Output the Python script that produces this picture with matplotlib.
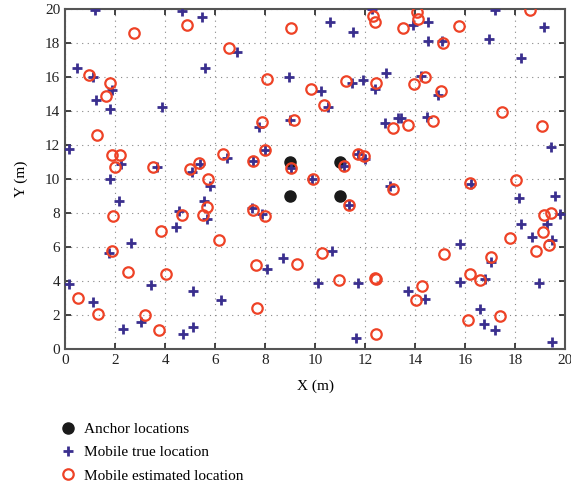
import matplotlib
matplotlib.use("Agg")
import matplotlib.pyplot as plt
import numpy as np

plt.rcParams['font.family'] = ['Liberation Serif', 'DejaVu Serif']

# anchor positions
anchor_x = [9, 11, 9, 11]
anchor_y = [11, 11, 9, 9]

# mobile true locations (+)
true_x = [1.2, 4.67, 5.47, 0.47, 1.13, 5.6, 1.87, 1.23, 1.8, 3.87, 0.17, 2.23, 3.67, 5.07, 5.4, 6.47, 5.8, 1.8,
          12.27, 10.6, 11.5, 6.87, 8.96, 10.23, 10.5, 11.47, 11.9, 12.4, 12.84, 7.77, 9.0, 12.8, 13.33, 7.53,
          8.0, 9.04, 9.87, 11.17, 11.7, 12.0,
          13.93, 14.53, 17.17, 19.16, 14.53, 15.07, 16.96, 18.24, 14.24, 14.9, 13.44, 14.49, 19.44,
          16.24, 18.16, 19.6, 19.8, 18.24, 19.27, 18.67, 19.47, 15.8, 17.04, 16.77, 15.8, 18.96, 13.73,
          14.4, 16.6, 16.73, 17.17, 19.47,
          11.37, 13.0, 7.47, 7.87, 10.67, 8.07, 8.71, 10.11, 11.71, 11.64, 6.25,
          2.17, 5.56, 5.69, 4.56, 4.43, 2.64, 1.76, 0.17, 3.44, 5.1, 1.13, 3.03, 2.31, 4.73, 5.11]
true_y = [19.9, 19.86, 19.5, 16.5, 16.0, 16.5, 15.2, 14.63, 14.08, 14.24, 11.75, 10.87, 10.7, 10.41, 10.85, 11.2, 9.6, 10.0,
          20.0, 19.24, 18.65, 17.43, 16.0, 15.16, 14.25, 15.61, 15.8, 15.26, 16.24, 13.06, 13.45, 13.26, 13.55, 11.04,
          11.69, 10.65, 10.0, 10.75, 11.45, 11.14,
          19.04, 19.24, 19.92, 18.9, 18.12, 18.1, 18.2, 17.08, 16.04, 14.92, 13.59, 13.65, 11.88,
          9.68, 8.85, 9.0, 7.96, 7.37, 7.32, 6.59, 6.39, 6.14, 5.12, 4.14, 3.94, 3.85, 3.41,
          2.96, 2.37, 1.49, 1.1, 0.38,
          8.49, 9.6, 8.3, 7.96, 5.75, 4.67, 5.32, 3.9, 3.9, 0.65, 2.9,
          8.69, 8.69, 7.61, 8.12, 7.14, 6.2, 5.65, 3.8, 3.75, 3.41, 2.73, 1.59, 1.16, 0.85, 1.26]

# mobile estimated locations (o)
est_x = [4.87, 2.76, 6.55, 0.97, 1.8, 1.64, 1.29, 1.87, 2.2, 2.0, 3.53, 5.0, 5.37, 6.31, 5.73,
         12.33, 12.4, 9.04, 13.5, 8.09, 9.83, 10.36, 11.23, 12.43, 7.87, 9.17, 13.13, 7.53, 8.0, 9.04,
         9.9, 11.17, 11.7, 11.97,
         14.09, 14.1, 15.77, 18.6, 15.1, 14.4, 13.97, 15.04, 13.73, 14.73, 17.47, 19.07,
         16.2, 18.03, 19.16, 19.44, 19.1, 17.8, 19.36, 18.84, 15.17, 17.04, 16.2, 16.6, 14.27, 14.04,
         17.4, 16.09,
         11.37, 13.1, 7.53, 8.0, 10.29, 7.64, 9.27, 10.96, 12.4, 12.45, 7.69, 12.44,
         5.69, 5.53, 1.93, 4.67, 3.84, 6.17, 1.89, 2.53, 4.04, 0.53, 1.31, 3.2, 3.76]
est_y = [19.04, 18.6, 17.67, 16.1, 15.65, 14.86, 12.6, 11.4, 11.43, 10.7, 10.7, 10.6, 10.94, 11.45, 9.98,
         19.6, 19.24, 18.85, 18.85, 15.86, 15.26, 14.32, 15.75, 15.61, 13.32, 13.45, 13.0, 11.04, 11.69, 10.65,
         10.02, 10.75, 11.45, 11.35,
         19.83, 19.37, 18.98, 19.92, 17.96, 16.0, 15.55, 15.18, 13.16, 13.39, 13.94, 13.1,
         9.73, 9.92, 7.9, 8.02, 6.85, 6.53, 6.1, 5.76, 5.61, 5.41, 4.38, 4.08, 3.69, 2.86,
         1.92, 1.69,
         8.49, 9.4, 8.16, 7.82, 5.65, 4.92, 5.02, 4.08, 4.18, 4.12, 2.41, 0.9,
         8.35, 7.9, 7.82, 7.86, 6.92, 6.39, 5.75, 4.53, 4.38, 3.02, 2.08, 1.98, 1.14]

ticks = np.arange(0, 21, 2)

fig = plt.figure(figsize=(5.71, 4.88), dpi=100)
ax = fig.add_axes([0.114, 0.285, 0.876, 0.697])

ax.plot(anchor_x, anchor_y, 'o', color='#1a1a1a', markersize=8, linestyle='none',
        label='Anchor locations', zorder=3)
ax.plot(true_x, true_y, '+', color='#3a2f8e', markersize=7.5, markeredgewidth=2,
        linestyle='none', label='Mobile true location', zorder=4)
ax.plot(est_x, est_y, 'o', markerfacecolor='none', markeredgecolor='#ee4226', markersize=7.5,
        markeredgewidth=1.6, linestyle='none', label='Mobile estimated location', zorder=5)

ax.set_xlim(0, 20)
ax.set_ylim(0, 20)
ax.set_xticks(ticks)
ax.set_yticks(ticks)
ax.tick_params(direction='in', top=True, right=True, length=4, width=1.2,
               labelsize=11, colors='#222222')
ax.grid(True, linestyle=(0, (1, 4)), color='#888888', linewidth=0.8)
for s in ax.spines.values():
    s.set_color('#555555')
    s.set_linewidth(1.5)

ax.set_xlabel('X (m)', fontsize=11, labelpad=9)
ax.set_ylabel('Y (m)', fontsize=11, labelpad=12)

fig.legend(loc='upper left', bbox_to_anchor=(0.105, 0.134), frameon=False, fontsize=11,
           handlelength=1.0, handletextpad=0.6, labelspacing=0.62, borderpad=0, borderaxespad=0)

fig.savefig('out.png', dpi=100)
